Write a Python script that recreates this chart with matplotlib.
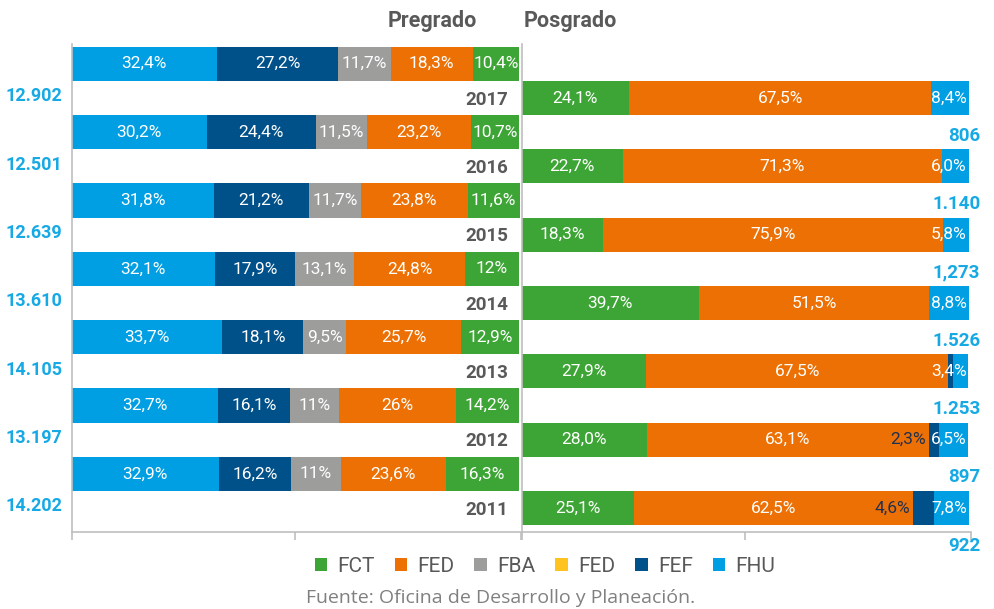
import matplotlib
matplotlib.use("Agg")
import matplotlib.pyplot as plt
from matplotlib.patches import Patch
from matplotlib import font_manager

# ---------------- data ----------------
years = ["2017", "2016", "2015", "2014", "2013", "2012", "2011"]

# Pregrado (left panel) - order of stacking left to right
pre_fhu = [32.4, 30.2, 31.8, 32.1, 33.7, 32.7, 32.9]
pre_fef = [27.2, 24.4, 21.2, 17.9, 18.1, 16.1, 16.2]
pre_fba = [11.7, 11.5, 11.7, 13.1, 9.5, 11, 11]
pre_fed = [18.3, 23.2, 23.8, 24.8, 25.7, 26, 23.6]
pre_fct = [10.4, 10.7, 11.6, 12, 12.9, 14.2, 16.3]
pre_total = ["12.902", "12.501", "12.639", "13.610", "14.105", "13.197", "14.202"]

# Posgrado (right panel)
pos_fct = [24.1, 22.7, 18.3, 39.7, 27.9, 28.0, 25.1]
pos_fed = [67.5, 71.3, 75.9, 51.5, 67.5, 63.1, 62.5]
pos_fef = [0, 0, 0, 0, 1.1, 2.3, 4.6]
pos_fhu = [8.4, 6.0, 5.8, 8.8, 3.4, 6.5, 7.8]
pos_total = ["806", "1.140", "1,273", "1.526", "1.253", "897", "922"]

legend_labels = ["FCT", "FED", "FBA", "FED", "FEF", "FHU"]

# ---------------- style ----------------
C_FHU = "#009FE3"
C_FEF = "#00508A"
C_FBA = "#9D9D9C"
C_FED = "#EC7004"
C_FCT = "#3DA535"
C_YEL = "#FEC31F"
C_TOT = "#17A9E4"
C_TXT = "#595959"
C_SPINE = "#BFBFBF"

avail = {f.name for f in font_manager.fontManager.ttflist}
NARROW = "Liberation Sans Narrow" if "Liberation Sans Narrow" in avail else "Roboto"
plt.rcParams["font.family"] = [NARROW, "DejaVu Sans"]

W, H = 994, 609
fig = plt.figure(figsize=(W / 100, H / 100), dpi=100)


def px_axes(x0, y0, x1, y1):
    return fig.add_axes([x0 / W, 1 - y1 / H, (x1 - x0) / W, (y1 - y0) / H])


axL = px_axes(71.5, 44, 521, 532)
axR = px_axes(521.5, 44, 970.5, 532)

n = len(years)
yL = [2 * k + 0.5 for k in range(n)]
yR = [2 * k + 1.5 for k in range(n)]


def fmt(v, keep_decimal):
    if not keep_decimal and float(v).is_integer():
        return f"{int(v)}%"
    return f"{v:.1f}%".replace(".", ",")


for ax in (axL, axR):
    ax.set_xlim(0, 100.4)
    ax.set_ylim(14.2, -0.08)
    for s in ("top", "right"):
        ax.spines[s].set_visible(False)
    for s in ("left", "bottom"):
        ax.spines[s].set_color(C_SPINE)
        ax.spines[s].set_linewidth(1.2)
    ax.set_xticks([0, 50, 100.4])
    ax.set_xticklabels([])
    ax.set_yticks([])
    ax.tick_params(axis="x", length=6, color=C_SPINE, width=1.2, direction="out")
    ax.patch.set_alpha(0)

# left stacks
left = [0.0] * n
for vals, col in [(pre_fhu, C_FHU), (pre_fef, C_FEF), (pre_fba, C_FBA),
                  (pre_fed, C_FED), (pre_fct, C_FCT)]:
    axL.barh(yL, vals, left=left, height=1.0, color=col, edgecolor="none")
    for i, v in enumerate(vals):
        axL.text(left[i] + v / 2, yL[i], fmt(v, False), ha="center", va="center",
                 color="white", fontsize=12.5)
    left = [a + b for a, b in zip(left, vals)]

# right stacks
left = [0.0] * n
for key, vals, col in [("fct", pos_fct, C_FCT), ("fed", pos_fed, C_FED),
                       ("fef", pos_fef, C_FEF), ("fhu", pos_fhu, C_FHU)]:
    axR.barh(yR, vals, left=left, height=1.0, color=col, edgecolor="none")
    for i, v in enumerate(vals):
        if v <= 0:
            continue
        if key in ("fct", "fed"):
            axR.text(left[i] + v / 2, yR[i], fmt(v, True), ha="center", va="center",
                     color="white", fontsize=12.5)
        elif key == "fef":
            if v >= 2:
                axR.text(left[i] - 0.6, yR[i], fmt(v, True), ha="right", va="center",
                         color="#1F3050", fontsize=12.5)
        else:
            axR.text(left[i] + v - 0.4, yR[i], fmt(v, True), ha="right", va="center",
                     color="white", fontsize=12.5)
    left = [a + b for a, b in zip(left, vals)]

# year labels and totals
for i in range(n):
    axL.text(97.6, yR[i] + 0.05, years[i], ha="right", va="center", color=C_TXT,
             fontsize=13.5, fontweight="bold")
    axL.text(-2.1, yR[i] - 0.05, pre_total[i], ha="right", va="center", color=C_TOT,
             fontsize=13, fontweight="bold", clip_on=False)
    axR.text(102.6, yR[i] + 1.1, pos_total[i], ha="right", va="center", color=C_TOT,
             fontsize=13.5, fontweight="bold", clip_on=False)

# titles
fig.text(432 / W, 1 - 21 / H, "Pregrado", ha="center", va="center", color=C_TXT,
         fontsize=15.5, fontweight="bold")
fig.text(524 / W, 1 - 21 / H, "Posgrado", ha="left", va="center", color=C_TXT,
         fontsize=15.5, fontweight="bold")

# legend
handles = [Patch(facecolor=c, edgecolor="none")
           for c in [C_FCT, C_FED, C_FBA, C_YEL, C_FEF, C_FHU]]
leg = fig.legend(handles, legend_labels, loc="center", bbox_to_anchor=(545 / W, 1 - 566 / H),
                 ncol=6, frameon=False, fontsize=15, handlelength=0.6, handleheight=0.6,
                 handletextpad=0.5, columnspacing=0.95, labelcolor=C_TXT)

# footer
fig.text(501 / W, 1 - 598 / H, "Fuente: Oficina de Desarrollo y Planeación.",
         ha="center", va="center", color="#808080", fontsize=14,
         family=["Open Sans", "DejaVu Sans"])

fig.savefig("out.png", dpi=100)
